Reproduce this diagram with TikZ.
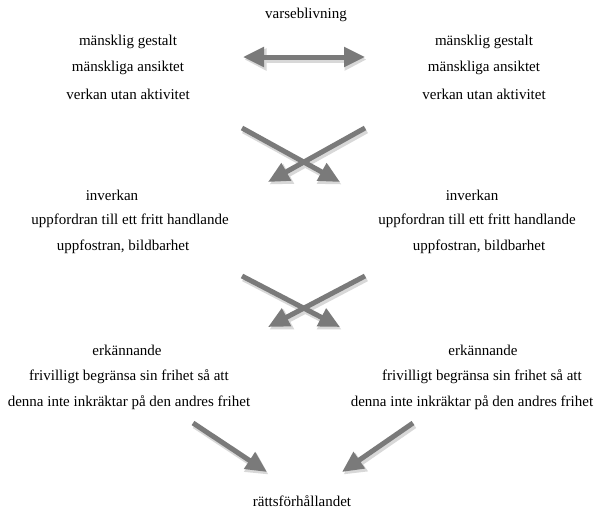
\documentclass[tikz,border=0pt]{standalone}
\usepackage{fontspec}
\setmainfont{Liberation Serif}
\usetikzlibrary{arrows.meta}
\definecolor{arrowgray}{HTML}{7A7A7A}
\definecolor{shadowgray}{HTML}{D8D8D8}
\tikzset{
  txt/.style={inner sep=0pt, font=\fontsize{15}{18}\selectfont, text=black},
  bigarrow/.style={draw=arrowgray, line width=5pt, -{Triangle[length=21pt,width=19pt]}},
  bigdouble/.style={draw=arrowgray, line width=5pt, {Triangle[length=21pt,width=19pt]}-{Triangle[length=21pt,width=19pt]}},
  shadowarrow/.style={draw=shadowgray, line width=6pt, -{Triangle[length=22pt,width=21pt]}, transform canvas={shift={(1.5pt,-2.5pt)}}},
  shadowdouble/.style={draw=shadowgray, line width=6pt, {Triangle[length=22pt,width=21pt]}-{Triangle[length=22pt,width=21pt]}, transform canvas={shift={(1.5pt,-2.5pt)}}}
}
\begin{document}
\begin{tikzpicture}[x=1pt,y=-1pt]
\useasboundingbox[fill=white] (0,0) rectangle (607,512);
% texts
\node[txt] (top) at (306,15) {varseblivning};
\node[txt] (la1) at (128,42) {mänsklig gestalt};
\node[txt] (la2) at (128,68) {mänskliga ansiktet};
\node[txt] (la3) at (128,94) {verkan utan aktivitet};
\node[txt] (ra1) at (484,42) {mänsklig gestalt};
\node[txt] (ra2) at (484,68) {mänskliga ansiktet};
\node[txt] (ra3) at (484,94) {verkan utan aktivitet};
\node[txt] (lb1) at (112,195) {inverkan};
\node[txt] (lb2) at (130,221) {uppfordran till ett fritt handlande};
\node[txt] (lb3) at (123,247) {uppfostran, bildbarhet};
\node[txt] (rb1) at (472,195) {inverkan};
\node[txt] (rb2) at (477,221) {uppfordran till ett fritt handlande};
\node[txt] (rb3) at (479,247) {uppfostran, bildbarhet};
\node[txt] (lc1) at (127,350) {erkännande};
\node[txt] (lc2) at (129,377) {frivilligt begränsa sin frihet så att};
\node[txt] (lc3) at (129,403) {denna inte inkräktar på den andres frihet};
\node[txt] (rc1) at (483,350) {erkännande};
\node[txt] (rc2) at (482,377) {frivilligt begränsa sin frihet så att};
\node[txt] (rc3) at (472,403) {denna inte inkräktar på den andres frihet};
\node[txt] (bot) at (302,501) {rättsförhållandet};
% arrow end points
\coordinate (dA) at (243,57);
\coordinate (dB) at (365,57);
\coordinate (x1a) at (242,128); \coordinate (x1b) at (340,182);
\coordinate (x1c) at (365,128); \coordinate (x1d) at (268,182);
\coordinate (x2a) at (242,276); \coordinate (x2b) at (340,327);
\coordinate (x2c) at (365,276); \coordinate (x2d) at (268,327);
\coordinate (b1a) at (193,423); \coordinate (b1b) at (267,472);
\coordinate (b2a) at (413,423); \coordinate (b2b) at (342,472);
% shadows
\draw[shadowdouble] (dA) -- (dB);
\draw[shadowarrow] (x1a) -- (x1b);
\draw[shadowarrow] (x1c) -- (x1d);
\draw[shadowarrow] (x2a) -- (x2b);
\draw[shadowarrow] (x2c) -- (x2d);
\draw[shadowarrow] (b1a) -- (b1b);
\draw[shadowarrow] (b2a) -- (b2b);
% arrows
\draw[bigdouble] (dA) -- (dB);
\draw[bigarrow] (x1a) -- (x1b);
\draw[bigarrow] (x1c) -- (x1d);
\draw[bigarrow] (x2a) -- (x2b);
\draw[bigarrow] (x2c) -- (x2d);
\draw[bigarrow] (b1a) -- (b1b);
\draw[bigarrow] (b2a) -- (b2b);
\end{tikzpicture}
\end{document}
